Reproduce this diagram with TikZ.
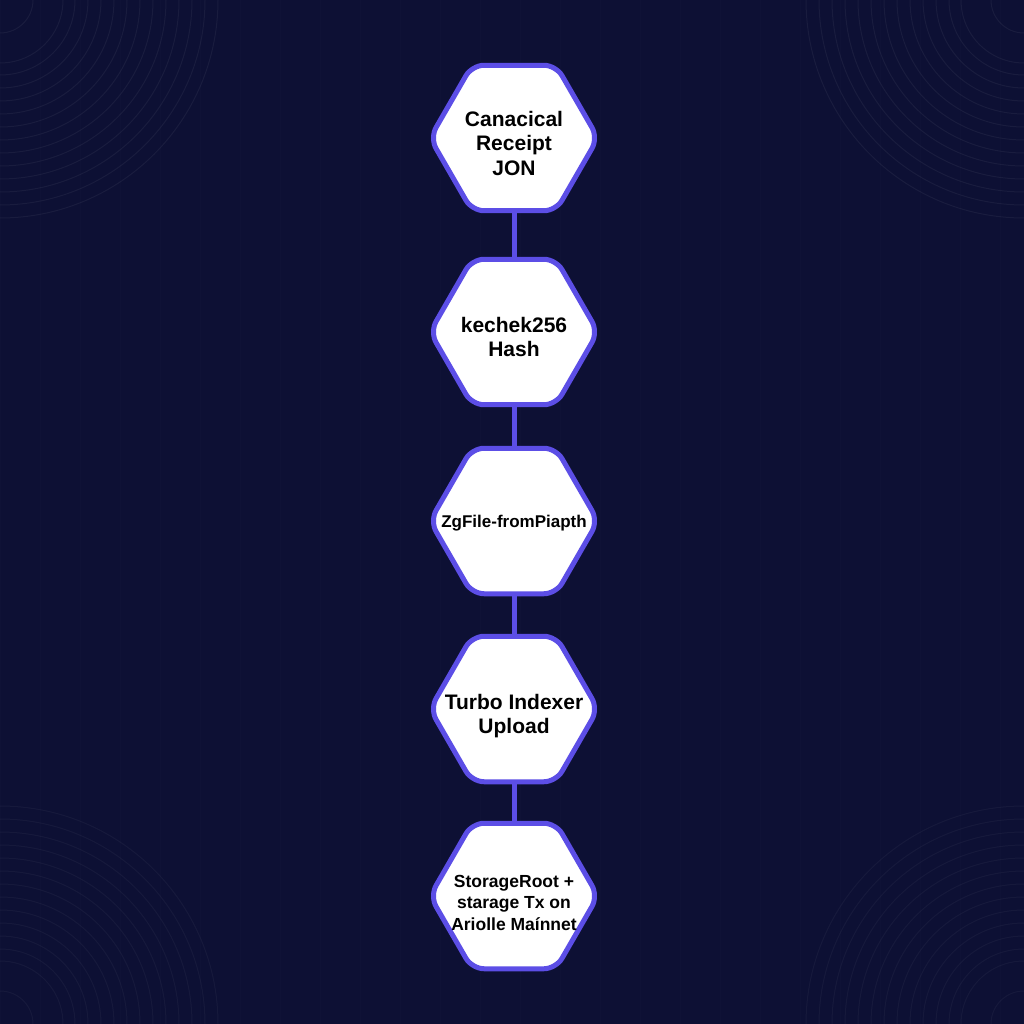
\documentclass[tikz,border=0pt]{standalone}
\usepackage{fontspec}
\setmainfont{Liberation Sans}
\usetikzlibrary{shapes.geometric}
\definecolor{night}{HTML}{0D1034}
\definecolor{violet}{HTML}{5C4EE6}
\newcommand{\hexlabel}[2][-13pt]{\smash{\raisebox{#1}{\makebox[0pt]{\begin{tabular}{@{}c@{}}#2\end{tabular}}}}}

\begin{document}
\begin{tikzpicture}[x=1pt,y=-1pt,
  hexa/.style={regular polygon,regular polygon sides=6,minimum size=168pt,
    inner sep=0pt,draw=violet,line width=5pt,fill=white,rounded corners=12pt,
    font=\bfseries\fontsize{21}{24.5}\selectfont},
  small/.style={font=\bfseries\fontsize{17.5}{21.5}\selectfont},
  link/.style={violet,line width=5pt}]

% background
\fill[night] (0,0) rectangle (1024,1024);
\useasboundingbox (0,0) rectangle (1024,1024);
\begin{scope}
\clip (0,0) rectangle (1024,1024);
\draw[white,opacity=.012,line width=.6pt,step=40] (0,0) grid (1024,1024);
\foreach \r in {33,63,75,88,101,114,127,140,153,166,179,192,205,218}{
  \draw[white,opacity=.05,line width=1pt] (0,0) circle (\r);
  \draw[white,opacity=.05,line width=1pt] (1024,0) circle (\r);
  \draw[white,opacity=.04,line width=1pt] (0,1024) circle (\r);
  \draw[white,opacity=.04,line width=1pt] (1024,1024) circle (\r);
}
\end{scope}

\node[hexa] (receipt) at (514,138) {\hexlabel{Canacical\\Receipt\\JON}};
\node[hexa] (hash) at (514,332) {\hexlabel{kechek256\\Hash}};
\node[hexa,font=\bfseries\fontsize{17}{20}\selectfont] (zgfile) at (514,521) {\hexlabel[-7pt]{ZgFile-fromPiapth}};
\node[hexa] (upload) at (514,709) {\hexlabel{Turbo Indexer\\Upload}};
\node[hexa,small] (root) at (514,896) {\hexlabel{StorageRoot +\\starage Tx on\\Ariolle Maínnet}};

\draw[link] (receipt) -- (hash);
\draw[link] (hash) -- (zgfile);
\draw[link] (zgfile) -- (upload);
\draw[link] (upload) -- (root);

\end{tikzpicture}
\end{document}
